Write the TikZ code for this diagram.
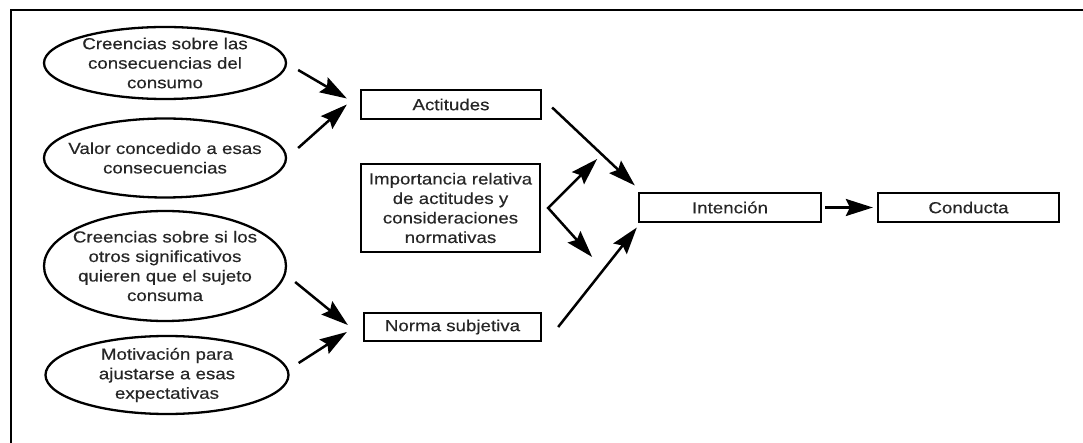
\documentclass[tikz,border=0pt]{standalone}
\usepackage{fontspec}
\setmainfont[FakeStretch=1.17,FakeBold=0.4]{Liberation Sans}
\usetikzlibrary{shapes.geometric,arrows.meta}
\begin{document}
\begin{tikzpicture}[x=1pt,y=-1pt,
  txt/.style={font=\fontsize{16}{19.5}\selectfont, text=black!85,
    align=center, inner sep=0pt},
  every node/.style={txt},
  oval/.style={draw=black, line width=2.3pt, ellipse, inner sep=0pt},
  box/.style={draw=black, line width=2.3pt, rectangle},
  head/.tip={Stealth[length=27pt,width=17pt,inset=4pt]},
  arr/.style={line width=2.5pt, -head},
  twoarr/.style={line width=2.5pt, head-head, line join=miter}]
\useasboundingbox (0,0) rectangle (1083,443);
% frame
\draw[line width=2.3pt] (11,443) -- (11,10) -- (1083,10);

% beliefs and evaluations (text set as centred labels so the ovals keep their size)
\node[oval, minimum width=242pt, minimum height=72pt,
  label={[txt]center:Creencias sobre las\\consecuencias del\\consumo}] (e1) at (165,63) {};
\node[oval, minimum width=242pt, minimum height=79pt,
  label={[txt]center:Valor concedido a esas\\consecuencias}] (e2) at (165,158) {};
\node[oval, minimum width=242pt, minimum height=110pt,
  label={[txt]center:Creencias sobre si los\\otros significativos\\quieren que el sujeto\\consuma}] (e3) at (165,266) {};
\node[oval, minimum width=243pt, minimum height=78pt,
  label={[txt]center:Motivación para\\ajustarse a esas\\expectativas}] (e4) at (167,375) {};

% middle column
\node[box, minimum width=180pt, minimum height=29pt] (act) at (451,104.5) {Actitudes};
\node[box, minimum width=179pt, minimum height=88pt] (imp) at (450.5,208)
  {Importancia relativa\\de actitudes y\\consideraciones\\normativas};
\node[box, minimum width=177pt, minimum height=28pt] (norm) at (452.5,327) {Norma subjetiva};

% right column
\node[box, minimum width=182pt, minimum height=29pt] (int) at (730,207.5) {Intención};
\node[box, minimum width=181pt, minimum height=29pt] (cond) at (968.5,207.5) {Conducta};

% connectors
\draw[arr] ([shift={(11,7)}]e1.east) -- ([shift={(-13,-6)}]act.west);
\draw[arr] ([shift={(11,-10)}]e2.east) -- ([shift={(-13,0)}]act.west);
\draw[arr] ([shift={(8,16)}]e3.east) -- ([shift={(-15,-2)}]norm.west);
\draw[arr] ([shift={(9,-12)}]e4.east) -- ([shift={(-16,5)}]norm.west);
\draw[arr] ([shift={(10,3)}]act.east) -- ([shift={(-3,-22)}]int.west);
\draw[arr] ([shift={(16,0)}]norm.east) -- ([shift={(-1,20)}]int.west);
\coordinate (fork) at ([shift={(7,0)}]imp.east);
\coordinate (up) at ([shift={(56,-49)}]imp.east);
\coordinate (down) at ([shift={(51,49)}]imp.east);
\draw[twoarr] (up) -- (fork) -- (down);
\draw[arr] ([shift={(3,0)}]int.east) -- ([shift={(-4,0)}]cond.west);
\end{tikzpicture}
\end{document}
